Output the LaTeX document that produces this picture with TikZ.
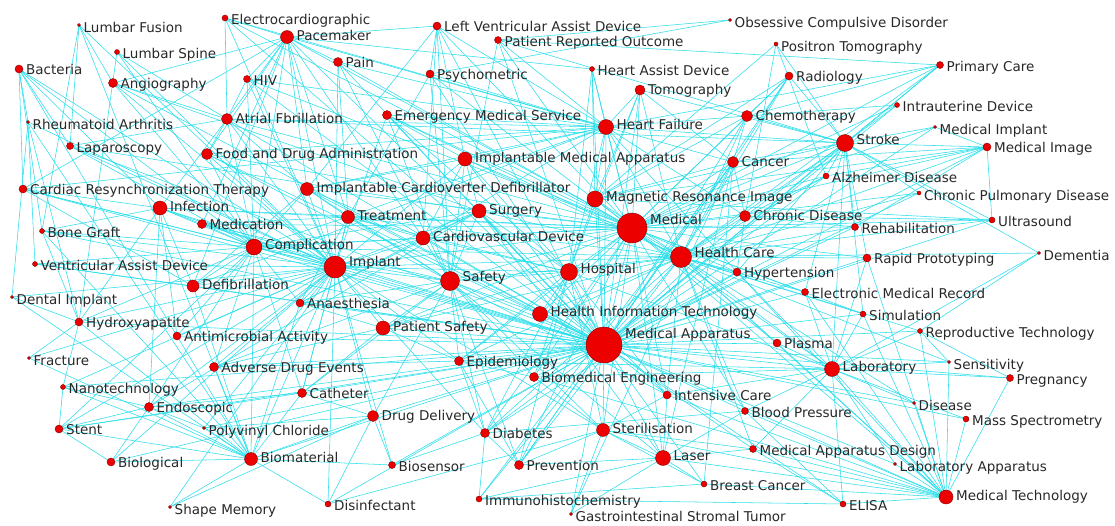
\documentclass[tikz,border=0pt]{standalone}
\usepackage{fontspec}
\setmainfont{DejaVu Sans}
\definecolor{edgec}{RGB}{40,222,234}
\definecolor{dotf}{RGB}{236,0,0}
\definecolor{dotd}{RGB}{140,0,0}
\definecolor{txt}{RGB}{40,40,40}
\pgfdeclarelayer{bg}
\pgfsetlayers{bg,main}
\tikzset{
  dot/.style={circle,fill=dotf,draw=dotd,line width=0.4pt,inner sep=0pt},
  lbl/.style={inner sep=0pt,text=txt,font=\fontsize{13.5}{16}\selectfont},
  edge/.style={draw=edgec,line width=0.55pt}
}
\newcommand\nd[5]{%
  \node[dot,minimum size=2*#4pt] (#1) at (#2,#3) {};
  \node[lbl,anchor=base west,xshift=#4pt+3pt,yshift=0.85*#4pt-9pt] (#1-l) at (#2,#3) {#5};}
\newcommand\hub[2]{\foreach \b in {#2}{\draw[edge] (#1.center) -- (\b.center);}}
\begin{document}
\begin{tikzpicture}[x=1pt,y=-1pt]
\useasboundingbox (0,0) rectangle (1115,525);
\nd{lf}{79}{25}{1.5}{Lumbar Fusion}
\nd{ecg}{225}{18}{3}{Electrocardiographic}
\nd{pace}{287}{37}{6.5}{Pacemaker}
\nd{lvad}{437}{26}{4}{Left Ventricular Assist Device}
\nd{ocd}{730}{20}{1.5}{Obsessive Compulsive Disorder}
\nd{pro}{498}{40}{3.5}{Patient Reported Outcome}
\nd{pet}{776}{44}{2}{Positron Tomography}
\nd{ls}{117}{52}{2.5}{Lumbar Spine}
\nd{bac}{19}{69}{4}{Bacteria}
\nd{pain}{338}{62}{4.5}{Pain}
\nd{angio}{113}{83}{4.5}{Angiography}
\nd{hiv}{247}{79}{3.5}{HIV}
\nd{psy}{430}{74}{4}{Psychometric}
\nd{had}{592}{69}{2.5}{Heart Assist Device}
\nd{rad}{789}{76}{4}{Radiology}
\nd{pc}{940}{65}{3.5}{Primary Care}
\nd{tomo}{640}{90}{5}{Tomography}
\nd{ra}{28}{122}{1.5}{Rheumatoid Arthritis}
\nd{af}{227}{119}{5.5}{Atrial Fbrillation}
\nd{ems}{387}{115}{4.5}{Emergency Medical Service}
\nd{chemo}{747}{116}{5.5}{Chemotherapy}
\nd{iud}{897}{105}{2.5}{Intrauterine Device}
\nd{hf}{606}{127}{7.5}{Heart Failure}
\nd{mi}{935}{127}{1.5}{Medical Implant}
\nd{stroke}{845}{143}{8.5}{Stroke}
\nd{mimg}{987}{147}{4}{Medical Image}
\nd{lap}{70}{146}{3.5}{Laparoscopy}
\nd{fda}{207}{154}{5.5}{Food and Drug Administration}
\nd{ima}{465}{159}{7}{Implantable Medical Apparatus}
\nd{cancer}{733}{162}{5.5}{Cancer}
\nd{alz}{826}{176}{3}{Alzheimer Disease}
\nd{crt}{23}{189}{4}{Cardiac Resynchronization Therapy}
\nd{icd}{307}{189}{6.5}{Implantable Cardioverter Defibrillator}
\nd{mri}{595}{199}{8}{Magnetic Resonance Image}
\nd{cpd}{919}{193}{2}{Chronic Pulmonary Disease}
\nd{inf}{160}{208}{7}{Infection}
\nd{surg}{479}{211}{7}{Surgery}
\nd{treat}{348}{217}{6.5}{Treatment}
\nd{med}{632}{228}{15}{Medical}
\nd{cd}{745}{216}{5.5}{Chronic Disease}
\nd{bg}{42}{231}{2.5}{Bone Graft}
\nd{medic}{202}{224}{4.5}{Medication}
\nd{us}{992}{220}{3}{Ultrasound}
\nd{rehab}{855}{227}{3.5}{Rehabilitation}
\nd{comp}{254}{247}{8}{Complication}
\nd{cvd}{423}{238}{7}{Cardiovascular Device}
\nd{dem}{1039}{253}{1.5}{Dementia}
\nd{vad}{35}{264}{2.5}{Ventricular Assist Device}
\nd{impl}{335}{267}{11}{Implant}
\nd{hc}{681}{257}{10.5}{Health Care}
\nd{rp}{867}{258}{4}{Rapid Prototyping}
\nd{hosp}{569}{272}{8.5}{Hospital}
\nd{safe}{450}{281}{9.5}{Safety}
\nd{hyp}{737}{272}{4}{Hypertension}
\nd{defib}{193}{286}{6}{Defibrillation}
\nd{di}{12}{297}{1.5}{Dental Implant}
\nd{emr}{805}{292}{3.5}{Electronic Medical Record}
\nd{anae}{300}{303}{4}{Anaesthesia}
\nd{hap}{79}{322}{4}{Hydroxyapatite}
\nd{hit}{540}{314}{7.5}{Health Information Technology}
\nd{sim}{863}{314}{3}{Simulation}
\nd{ps}{383}{328}{7}{Patient Safety}
\nd{rt}{920}{331}{2.5}{Reproductive Technology}
\nd{aa}{177}{336}{4}{Antimicrobial Activity}
\nd{ma}{604}{345}{18}{Medical Apparatus}
\nd{plasma}{777}{343}{4}{Plasma}
\nd{frac}{29}{358}{1.5}{Fracture}
\nd{epi}{459}{361}{4.5}{Epidemiology}
\nd{sens}{949}{362}{1.5}{Sensitivity}
\nd{ade}{214}{367}{4.5}{Adverse Drug Events}
\nd{lab}{832}{369}{7.5}{Laboratory}
\nd{preg}{1010}{378}{3.5}{Pregnancy}
\nd{bme}{534}{377}{4.5}{Biomedical Engineering}
\nd{nano}{63}{387}{2.5}{Nanotechnology}
\nd{cath}{302}{393}{4.5}{Catheter}
\nd{icu}{667}{395}{4}{Intensive Care}
\nd{endo}{149}{407}{4.5}{Endoscopic}
\nd{bp}{745}{411}{3.5}{Blood Pressure}
\nd{dis}{914}{403}{1.5}{Disease}
\nd{dd}{373}{416}{5.5}{Drug Delivery}
\nd{ms}{966}{419}{3}{Mass Spectrometry}
\nd{stent}{59}{429}{4}{Stent}
\nd{pvc}{204}{428}{1.5}{Polyvinyl Chloride}
\nd{diab}{485}{433}{4.5}{Diabetes}
\nd{ster}{603}{430}{6.5}{Sterilisation}
\nd{mad}{753}{449}{3.5}{Medical Apparatus Design}
\nd{bio}{111}{462}{4}{Biological}
\nd{biomat}{251}{459}{6.5}{Biomaterial}
\nd{bs}{392}{465}{3.5}{Biosensor}
\nd{prev}{519}{465}{4.5}{Prevention}
\nd{laser}{663}{458}{7.5}{Laser}
\nd{lapp}{895}{464}{1.5}{Laboratory Apparatus}
\nd{bc}{704}{484}{3}{Breast Cancer}
\nd{ihc}{479}{499}{3}{Immunohistochemistry}
\nd{elisa}{843}{504}{3}{ELISA}
\nd{mt}{946}{497}{7}{Medical Technology}
\nd{sm}{170}{507}{1.5}{Shape Memory}
\nd{disinf}{328}{504}{3}{Disinfectant}
\nd{gist}{571}{514}{1.5}{Gastrointestinal Stromal Tumor}
\begin{pgfonlayer}{bg}
\hub{ma}{pace,ecg,lvad,pain,psy,had,tomo,af,ems,hf,fda,ima,cancer,icd,mri,inf,surg,treat,med,cd,medic,comp,cvd,impl,hc,hosp,safe,hyp,defib,emr,anae,hit,sim,ps,aa,plasma,epi,ade,lab,bme,cath,icu,endo,bp,dis,dd,ms,pvc,diab,ster,mad,bio,biomat,bs,prev,laser,lapp,bc,ihc,elisa,mt,disinf,stroke,chemo,rad,pc,alz,rehab,rp,crt,lap,angio,hiv,stent,nano,hap,gist,sens,preg,mimg,us,rt,pro,iud,mi,cpd,vad,bg}
\hub{med}{pace,lvad,pro,had,tomo,hf,chemo,cancer,stroke,mimg,alz,mri,cd,hc,hosp,safe,hyp,emr,hit,impl,comp,treat,surg,cvd,ima,icd,ems,fda,af,pain,psy,rehab,rp,sim,lab,plasma,bme,icu,bp,ster,laser,epi,ps,mt,us,cpd,mi,iud,pc,rad,inf,medic,ecg,hiv,diab,prev}
\hub{hc}{pc,stroke,cd,hyp,emr,hit,hosp,rehab,rp,sim,lab,plasma,icu,bp,mad,mt,dis,diab,prev,epi,ps,safe,impl,comp,treat,surg,hf,cancer,alz,mimg,chemo,tomo,rad,dem,cpd,us,mri,ems,ima,rt,sens}
\hub{impl}{pace,ecg,lf,ls,angio,hiv,af,lap,fda,crt,icd,inf,medic,bg,comp,vad,defib,di,anae,hap,aa,ade,cath,endo,dd,pvc,biomat,bio,stent,nano,frac,sm,disinf,bs,ps,safe,cvd,treat,surg,ima,hosp,ster,bac,ra,pain,ems,epi,diab}
\hub{safe}{ems,ima,fda,icd,surg,treat,cvd,comp,hosp,hit,ps,epi,ade,cath,dd,diab,bme,ster,prev,laser,anae,medic,psy,pain,pro,lvad,icu}
\hub{hosp}{ems,hf,ima,surg,mri,hit,ps,epi,icu,ster,prev,diab,bme,lab,tomo,had,cvd,treat}
\hub{comp}{pace,af,fda,icd,inf,medic,defib,anae,aa,ade,cath,endo,lap,crt,vad,bg,hap,stent,biomat,treat,cvd,hiv,angio,ls,bac,surg}
\hub{stroke}{pc,rad,chemo,iud,mi,mimg,alz,cpd,us,rehab,rp,dem,cd,hyp,cancer,hf,tomo,emr,sim,pet,lab,af,mri,pro}
\hub{hf}{pace,lvad,had,tomo,pro,psy,ems,ima,icd,af,ecg,cd,hyp,chemo,cancer,mri,crt,defib,cvd,treat,pc,pain,hiv,fda}
\hub{mt}{lab,mad,bp,dis,ms,sim,plasma,laser,ster,elisa,lapp,preg,sens,rt,emr,icu,bme,bc,rp,hyp}
\hub{lab}{plasma,sens,preg,dis,ms,bp,icu,sim,emr,mad,elisa,lapp,rt,hyp,bme,epi,dem,rp}
\hub{biomat}{hap,nano,stent,endo,bio,pvc,sm,disinf,cath,dd,aa,ade,bs,bg,di,frac,ra,lf,defib,anae}
\hub{pace}{ecg,af,crt,icd,defib,pain,hiv,cvd,treat,lvad,had,fda,angio,medic}
\hub{af}{ecg,fda,icd,angio,hiv,lap,ls,inf}
\hub{treat}{pain,psy,medic,inf,anae,cath,icd,cvd}
\hub{surg}{lap,angio,endo,anae,icu,laser,ima,cvd}
\hub{mri}{tomo,rad,pet,us,mimg,cancer,chemo,had}
\hub{cancer}{chemo,rad,tomo,bc,ihc,prev,laser,gist,cd}
\hub{diab}{hyp,prev,epi,bp,ihc,bs}
\hub{ster}{bme,laser,disinf,prev,icu,bc,mad,gist}
\hub{laser}{bc,prev,mad,ihc,gist,icu,bp}
\hub{epi}{ade,prev,bme,ps}
\hub{ihc}{elisa,bc}
\hub{elisa}{mad,bp}
\hub{ocd}{psy,pro}
\hub{pro}{pc}
\hub{pet}{alz,cd}
\hub{dem}{rt}
\hub{rt}{preg,sens}
\hub{stent}{nano,endo,cath,bio}
\hub{bac}{inf,aa,crt,bg,lap,ra}
\hub{ra}{di,hap,vad}
\hub{lf}{bg,lap,angio}
\hub{ls}{hap}
\hub{inf}{aa,medic,crt,bg,hap,defib,endo}
\hub{lvad}{icd,cvd,ima,psy}
\hub{cvd}{icd,ima,anae}
\hub{ima}{icd,ems}
\hub{chemo}{rad,pc,iud}
\hub{cd}{hyp,rehab,alz,us}
\hub{mimg}{alz,us,cancer,mi,rehab}
\hub{defib}{crt,vad,icd}
\hub{hap}{di,nano,frac,bg}
\hub{endo}{nano,bio,pvc,cath}
\hub{dd}{cath,bs,disinf,pvc,sm}
\hub{ps}{anae,ade,cath}
\end{pgfonlayer}
\end{tikzpicture}
\end{document}
